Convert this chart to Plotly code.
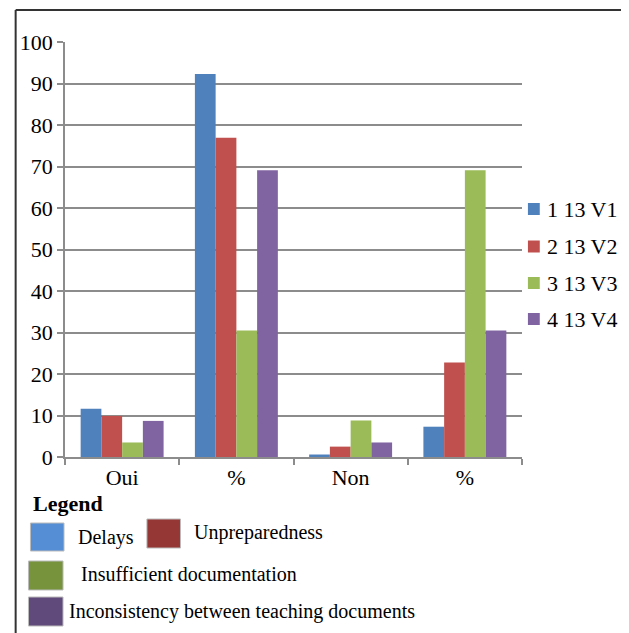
import plotly.graph_objects as go

categories = ["Oui", "%", "Non", "%"]
series_names = ["1 13 V1", "2 13 V2", "3 13 V3", "4 13 V4"]
v1 = [11.6, 92.3, 0.6, 7.3]
v2 = [9.9, 76.9, 2.5, 22.8]
v3 = [3.5, 30.5, 8.8, 69.1]
v4 = [8.7, 69.1, 3.5, 30.5]
series_values = [v1, v2, v3, v4]
series_colors = ["#4F81BD", "#C0504D", "#9BBB59", "#8064A2"]

legend_labels = ["Delays", "Unpreparedness", "Insufficient documentation",
                 "Inconsistency between teaching documents"]
legend_colors = ["#558ED5", "#953735", "#77933C", "#604A7B"]

# the page body adds an 8px offset; work in screen pixels and shift
OFF = 8
W, H = 629 - OFF, 633 - OFF
L, R, T, B = 59, 522, 42, 457  # screen pixels of the plot area
FONT = "Liberation Serif, Times New Roman, serif"

def px(x):
    return (x - L) / (R - L)

def py(y):
    return (B - y) / (B - T)

x_pos = list(range(len(categories)))

fig = go.Figure()
for i, (name, vals, col) in enumerate(zip(series_names, series_values, series_colors)):
    fig.add_trace(go.Bar(x=x_pos, y=vals, name=name, marker_color=col,
                         marker_line_width=0, showlegend=False))

shapes = []
annotations = []
# outer frame (top and left)
shapes.append(dict(type="line", xref="paper", yref="paper", x0=px(9), x1=px(640),
                   y0=py(10), y1=py(10), line=dict(color="#333333", width=2)))
shapes.append(dict(type="line", xref="paper", yref="paper", x0=px(9), x1=px(9),
                   y0=py(10), y1=py(640), line=dict(color="#333333", width=2)))

# series legend (right side)
legend_y = [209, 246.5, 283, 319]
for name, col, yc in zip(series_names, series_colors, legend_y):
    shapes.append(dict(type="rect", xref="paper", yref="paper", x0=px(528), x1=px(540),
                       y0=py(yc - 6), y1=py(yc + 6), fillcolor=col, line=dict(width=0)))
    annotations.append(dict(text=name, xref="paper", yref="paper", x=px(545), y=py(yc),
                            xanchor="left", yanchor="middle", showarrow=False,
                            font=dict(family=FONT, size=22, color="black")))

# bottom legend
annotations.append(dict(text="<b>Legend</b>", xref="paper", yref="paper",
                        x=px(25), y=py(503), xanchor="left", yanchor="middle",
                        showarrow=False, font=dict(family=FONT, size=22, color="black")))
boxes = [(24, 523, 58, 551), (142, 519, 176, 548), (22, 561, 57, 590), (22, 597, 57, 626)]
text_pos = [(70, 537), (188, 532), (73, 574), (61, 611)]
for lab, col, (x0, y0, x1, y1), (tx, ty) in zip(legend_labels, legend_colors, boxes, text_pos):
    shapes.append(dict(type="rect", xref="paper", yref="paper", x0=px(x0), x1=px(x1),
                       y0=py(y0), y1=py(y1), fillcolor=col, line=dict(color="#bbbbbb", width=1)))
    annotations.append(dict(text=lab, xref="paper", yref="paper", x=px(tx), y=py(ty),
                            xanchor="left", yanchor="middle", showarrow=False,
                            font=dict(family=FONT, size=20, color="black")))

fig.update_layout(
    width=W, height=H, autosize=False,
    margin=dict(l=L - OFF, r=(W + OFF) - R, t=T - OFF, b=(H + OFF) - B, pad=0),
    paper_bgcolor="white", plot_bgcolor="white",
    barmode="group", bargap=0.274, bargroupgap=0,
    font=dict(family=FONT, size=22, color="black"),
    showlegend=False,
    shapes=shapes, annotations=annotations,
)
fig.update_xaxes(range=[-0.5, 3.5], tickmode="array", tickvals=x_pos, ticktext=categories,
                 ticks="", showgrid=False, showline=True, linecolor="#8c8c8c", linewidth=1.5,
                 zeroline=False, tickfont=dict(family=FONT, size=22, color="black"),
                 minor=dict(tickmode="array", tickvals=[-0.5, 0.5, 1.5, 2.5, 3.5],
                            ticks="outside", ticklen=6, tickcolor="#8c8c8c", tickwidth=1.5,
                            showgrid=False))
fig.update_yaxes(range=[0, 100], dtick=10, showgrid=True, gridcolor="#8c8c8c", gridwidth=1.5,
                 showline=True, linecolor="#8c8c8c", linewidth=1.5, zeroline=False,
                 ticks="outside", ticklen=6, tickcolor="#8c8c8c", tickwidth=1.5,
                 tickfont=dict(family=FONT, size=22, color="black"))

fig.write_html("out.html", config={"displayModeBar": False})
